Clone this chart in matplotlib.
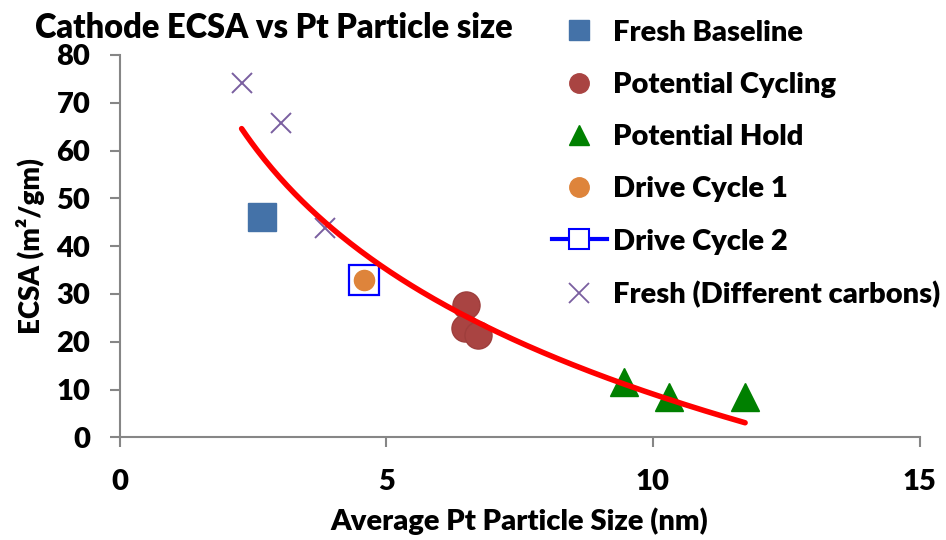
import numpy as np
import matplotlib
matplotlib.use("Agg")
import matplotlib.pyplot as plt
from matplotlib.lines import Line2D

# data
baseline_x = [2.68]
baseline_y = [46.2]
cycling_x = [6.49, 6.47, 6.73]
cycling_y = [27.6, 22.8, 21.4]
hold_x = [9.45, 10.30, 11.73]
hold_y = [11.6, 8.4, 8.4]
drive1_x = [4.58]
drive1_y = [33.0]
drive2_x = [4.58]
drive2_y = [33.0]
carbons_x = [2.29, 3.03, 3.86]
carbons_y = [74.1, 65.8, 43.8]

labels = ["Fresh Baseline", "Potential Cycling", "Potential Hold",
          "Drive Cycle 1", "Drive Cycle 2", "Fresh (Different carbons)"]

plt.rcParams['font.family'] = ['Lato', 'DejaVu Sans']
W = 'heavy'

fig = plt.figure(figsize=(9.46, 5.40), dpi=100)
ax = fig.add_axes([119.5/946, 1 - 437.3/540, 800/946, 382.3/540])

ax.plot(baseline_x, baseline_y, 's', color='#4472A8', ms=20, zorder=3)
ax.plot(cycling_x, cycling_y, 'o', color='#A94442', ms=19.5, mec='#9E3E3C', zorder=3)
ax.plot(hold_x, hold_y, '^', color='#008000', ms=20, zorder=3)
ax.plot(drive2_x, drive2_y, '-s', color='#0000FF', mfc='none', ms=21.5, mew=1.6, lw=3, zorder=3)
ax.plot(drive1_x, drive1_y, 'o', color='#DE843B', ms=14.5, zorder=4)
ax.plot(carbons_x, carbons_y, 'x', color='#7A5FA0', ms=14, mew=1.4, zorder=3)

# logarithmic trendline through all points
all_x = np.array(baseline_x + cycling_x + hold_x + drive1_x + drive2_x + carbons_x)
all_y = np.array(baseline_y + cycling_y + hold_y + drive1_y + drive2_y + carbons_y)
b, a = np.polyfit(np.log(all_x), all_y, 1)
tx = np.linspace(all_x.min(), all_x.max(), 200)
ax.plot(tx, a + b * np.log(tx), color='#FF0000', lw=4, solid_capstyle='round', zorder=5)

ax.set_xlim(0, 15)
ax.set_ylim(0, 80)
ax.set_xticks([0, 5, 10, 15])
ax.set_yticks(range(0, 81, 10))
for s in ['top', 'right']:
    ax.spines[s].set_visible(False)
for s in ['left', 'bottom']:
    ax.spines[s].set_color('#868686')
    ax.spines[s].set_linewidth(1.5)
ax.tick_params(axis='both', color='#868686', width=1.5, length=7, labelsize=21)
ax.tick_params(axis='x', pad=16)
ax.tick_params(axis='y', pad=14)
for lab in ax.get_xticklabels() + ax.get_yticklabels():
    lab.set_fontweight(W)

ax.set_xlabel("Average Pt Particle Size (nm)", fontsize=21, fontweight=W, labelpad=9)
ax.set_ylabel("ECSA (m²/gm)", fontsize=20, fontweight=W, labelpad=8)
fig.text(35/946, 1 - 28/540, "Cathode ECSA vs Pt Particle size", fontsize=23.5,
         fontweight=W, va='center', ha='left')

handles = [
    Line2D([], [], ls='none', marker='s', color='#4472A8', ms=14),
    Line2D([], [], ls='none', marker='o', color='#A94442', ms=14),
    Line2D([], [], ls='none', marker='^', color='#008000', ms=14),
    Line2D([], [], ls='none', marker='o', color='#DE843B', ms=14),
    Line2D([], [], ls='-', marker='s', color='#0000FF', mfc='white', ms=14, mew=1.5, lw=3),
    Line2D([], [], ls='none', marker='x', color='#7A5FA0', ms=14, mew=1.3),
]
leg = fig.legend(handles, labels, loc='upper left', bbox_to_anchor=(537/946, 1 - 5/540),
                 frameon=False, prop={'size': 21, 'weight': W},
                 handlelength=1.9, handletextpad=0.2, labelspacing=0.9, borderpad=0)

fig.savefig("out.png", dpi=100)
